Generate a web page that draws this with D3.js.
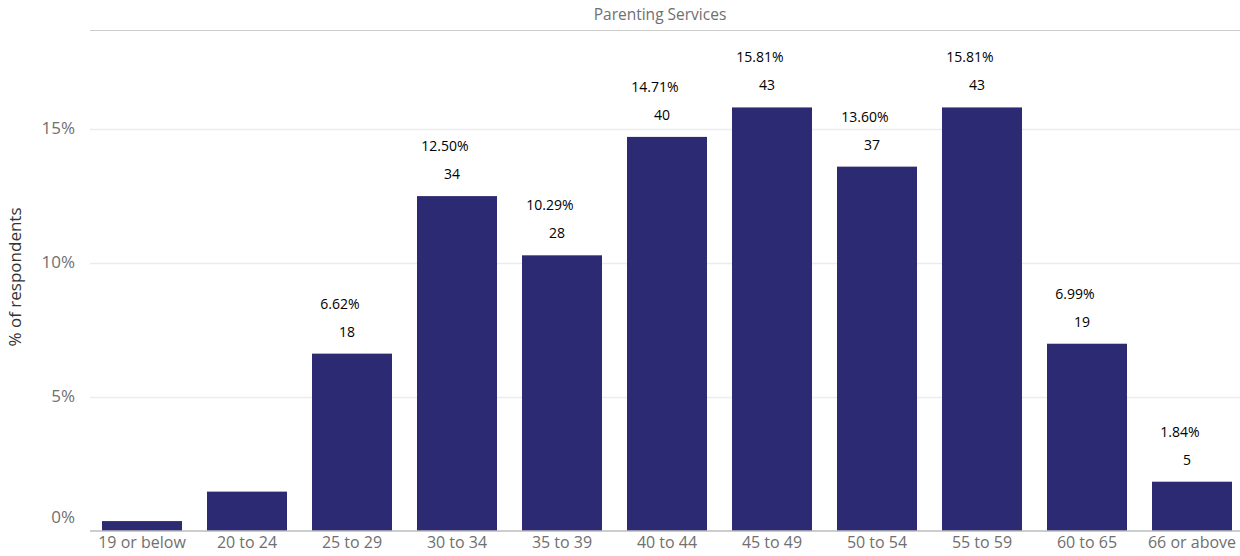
<!DOCTYPE html>
<html>
<head>
<meta charset="utf-8">
<script src="https://cdn.jsdelivr.net/npm/d3@7"></script>
<style>
  html, body { margin: 0; padding: 0; background: #fff; }
  svg { display: block; font-family: "Open Sans", "Noto Sans", sans-serif; }
</style>
</head>
<body>
<svg id="chart" width="1240" height="556"></svg>
<script>
// Age groups of respondents for Parenting Services
const categories = ["19 or below", "20 to 24", "25 to 29", "30 to 34", "35 to 39", "40 to 44",
                    "45 to 49", "50 to 54", "55 to 59", "60 to 65", "66 or above"];
const counts = [1, 4, 18, 34, 28, 40, 43, 37, 43, 19, 5];
const percents = [0.37, 1.47, 6.62, 12.50, 10.29, 14.71, 15.81, 13.60, 15.81, 6.99, 1.84];
const showLabel = [false, false, true, true, true, true, true, true, true, true, true];
const yTicks = [0, 5, 10, 15];
const title = "Parenting Services";
const yTitle = "% of respondents";

const svg = d3.select("#chart");
const W = 1240, H = 556;
const margin = { top: 30, right: -4.5, bottom: 25, left: 89.5 };
const plotBottom = 531;

const x = d3.scaleBand()
  .domain(categories)
  .range([margin.left, W - margin.right])
  .paddingInner(0.238)
  .paddingOuter(0.119);

const y = d3.scaleLinear()
  .domain([0, 18.7])
  .range([plotBottom, margin.top]);

// gridlines
svg.append("g")
  .selectAll("line")
  .data(yTicks.filter(d => d > 0))
  .join("line")
  .attr("x1", 90).attr("x2", W)
  .attr("y1", d => Math.round(y(d)) + 0.5).attr("y2", d => Math.round(y(d)) + 0.5)
  .attr("stroke", "#ececec").attr("stroke-width", 1.5);

// top border line
svg.append("line")
  .attr("x1", 90).attr("x2", W)
  .attr("y1", y(18.7) + 0.5).attr("y2", y(18.7) + 0.5)
  .attr("stroke", "#cccccc").attr("stroke-width", 1);

// y tick labels
svg.append("g")
  .selectAll("text")
  .data(yTicks)
  .join("text")
  .attr("x", 75)
  .attr("y", d => y(d) + (d === 0 ? -14 : -1))
  .attr("dy", "0.35em")
  .attr("text-anchor", "end")
  .attr("fill", "#707070")
  .attr("font-size", 17)
  .text(d => d + "%");

// bars
svg.append("g")
  .selectAll("rect")
  .data(categories)
  .join("rect")
  .attr("x", d => x(d))
  .attr("width", x.bandwidth())
  .attr("y", (d, i) => y(percents[i]))
  .attr("height", (d, i) => y(0) - y(percents[i]))
  .attr("fill", "#2b2a72");

// baseline axis
const xAxis = d3.axisBottom(x).tickSize(0).tickPadding(6);
const gx = svg.append("g")
  .attr("transform", `translate(0,${plotBottom})`)
  .call(xAxis);
gx.select(".domain").attr("stroke", "#bdbdbd").attr("stroke-width", 1.5)
  .attr("d", `M90,0H${W}`);
gx.selectAll("text")
  .attr("fill", "#707070")
  .attr("font-size", 16)
  .attr("font-family", "'Open Sans', sans-serif");

// value labels
const lbl = svg.append("g").attr("font-size", 14).attr("fill", "#000");
categories.forEach((c, i) => {
  if (!showLabel[i]) return;
  const cx = x(c) + x.bandwidth() / 2;
  const top = y(percents[i]);
  lbl.append("text")
    .attr("x", cx - 12).attr("y", top - 50)
    .attr("dy", "0.35em").attr("text-anchor", "middle")
    .text(percents[i].toFixed(2) + "%");
  lbl.append("text")
    .attr("x", cx - 5).attr("y", top - 22)
    .attr("dy", "0.35em").attr("text-anchor", "middle")
    .text(counts[i]);
});

// title
svg.append("text")
  .attr("x", 660).attr("y", 15)
  .attr("dy", "0.35em").attr("text-anchor", "middle")
  .attr("fill", "#707070").attr("font-size", 15.5)
  .text(title);

// y axis title
svg.append("text")
  .attr("transform", "translate(15,277) rotate(-90)")
  .attr("dy", "0.35em").attr("text-anchor", "middle")
  .attr("fill", "#333").attr("font-size", 17)
  .text(yTitle);
</script>
</body>
</html>
